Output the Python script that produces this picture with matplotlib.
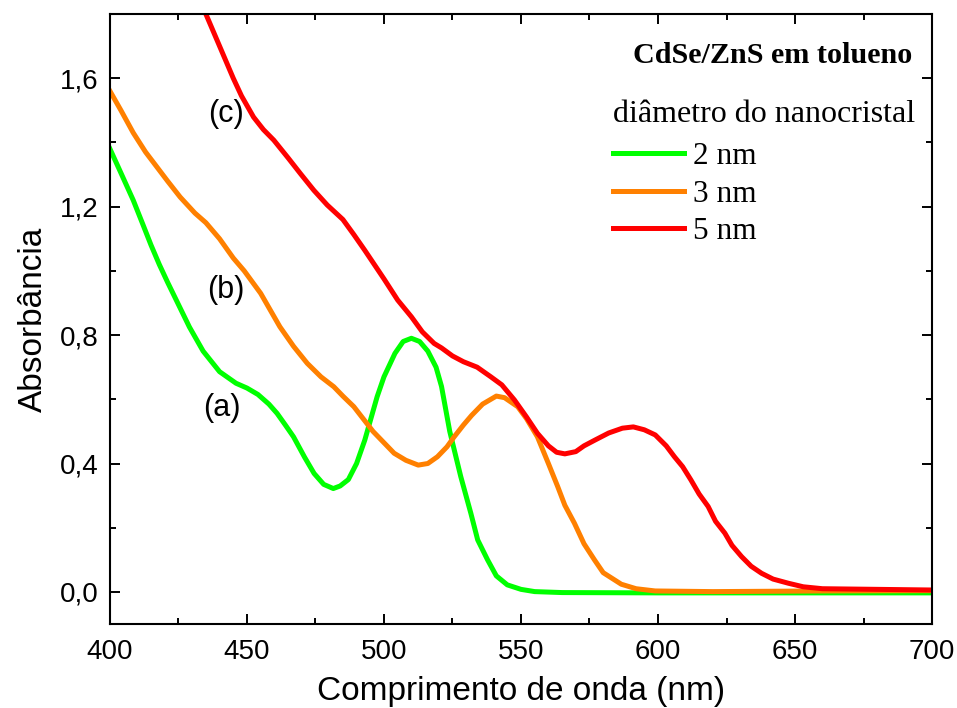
import matplotlib
matplotlib.use("Agg")
import matplotlib.pyplot as plt
from matplotlib.ticker import MultipleLocator, FuncFormatter

# absorption spectra of CdSe/ZnS quantum dots in toluene
wl_2nm = [400, 404, 408.5, 412, 415, 418, 421, 425, 429, 434, 440, 446, 450, 454,
          458, 461, 464, 467, 471, 474.5, 478, 481.5, 484, 487, 490, 493, 497.5,
          500, 504, 507, 510, 513, 516, 519, 521, 524, 528, 531.7, 534.2, 537.8,
          541, 545, 550, 555, 565, 600, 650, 700]
abs_2nm = [1.38, 1.305, 1.22, 1.145, 1.08, 1.02, 0.965, 0.895, 0.825, 0.75, 0.686,
           0.65, 0.635, 0.615, 0.585, 0.556, 0.52, 0.483, 0.42, 0.369, 0.335,
           0.322, 0.33, 0.35, 0.40, 0.473, 0.608, 0.67, 0.743, 0.78, 0.79, 0.78,
           0.75, 0.70, 0.64, 0.50, 0.36, 0.245, 0.162, 0.10, 0.05, 0.022, 0.008,
           0.001, -0.002, -0.003, -0.003, -0.003]

wl_3nm = [400, 404, 408.5, 413, 417, 421, 425.6, 431, 435, 440, 445, 449, 455,
          462, 467, 472, 477, 481.7, 485, 489, 496, 503.7, 508, 512.5, 516,
          519.5, 523, 525.6, 529, 532, 536, 541, 544, 548.8, 552, 556, 560,
          563.4, 566, 569.5, 573, 576.8, 580, 586.6, 592, 599, 620, 660, 700]
abs_3nm = [1.56, 1.50, 1.43, 1.37, 1.325, 1.28, 1.23, 1.18, 1.15, 1.10, 1.04,
           1.0, 0.93, 0.826, 0.765, 0.712, 0.67, 0.639, 0.61, 0.577, 0.50, 0.432,
           0.41, 0.395, 0.40, 0.421, 0.452, 0.483, 0.52, 0.55, 0.585, 0.61, 0.605,
           0.577, 0.54, 0.483, 0.40, 0.328, 0.27, 0.214, 0.15, 0.10, 0.06, 0.024,
           0.01, 0.003, 0.001, 0.003, 0.004]

wl_5nm = [425, 430, 435, 440, 445, 448, 452.4, 456, 459.8, 465, 469.5, 474.4,
          479.3, 485, 489, 493, 500, 505, 510, 514, 518.3, 521, 525, 529, 534,
          539, 543, 547.6, 552, 556, 560, 563, 566, 570, 573, 577, 582, 587, 591,
          595, 599, 603, 606, 609, 612, 615, 618.3, 621, 624.4, 627, 630.5, 634,
          637.8, 642, 647.6, 653, 660, 670, 680, 690, 700]
abs_5nm = [2.05, 1.92, 1.80, 1.70, 1.60, 1.545, 1.479, 1.44, 1.407, 1.352, 1.303,
           1.251, 1.205, 1.16, 1.113, 1.064, 0.975, 0.909, 0.857, 0.81, 0.774,
           0.76, 0.735, 0.717, 0.70, 0.67, 0.645, 0.598, 0.545, 0.494, 0.455,
           0.435, 0.43, 0.437, 0.455, 0.473, 0.495, 0.51, 0.514, 0.505, 0.489,
           0.455, 0.421, 0.39, 0.349, 0.305, 0.266, 0.22, 0.183, 0.145, 0.11,
           0.08, 0.058, 0.04, 0.027, 0.016, 0.01, 0.009, 0.008, 0.007, 0.006]

sizes = ["2 nm", "3 nm", "5 nm"]
colors = ["#00ff00", "#ff8000", "#ff0000"]
tags = ["(a)", "(b)", "(c)"]
tag_pos = [(441.0, 0.573), (442.1, 0.94), (442.4, 1.488)]

plt.rcParams['font.family'] = ['Liberation Sans', 'DejaVu Sans']
serif = ['Liberation Serif', 'DejaVu Serif']

fig = plt.figure(figsize=(9.57, 7.08), dpi=100)
ax = fig.add_axes([0.1149, 0.1186, 0.859, 0.8616])

for wl, ab, lab, c in zip([wl_2nm, wl_3nm, wl_5nm], [abs_2nm, abs_3nm, abs_5nm],
                          sizes, colors):
    ax.plot(wl, ab, color=c, lw=3.6, label=lab, solid_joinstyle='round')

for t, (x, y) in zip(tags, tag_pos):
    ax.text(x, y, t, fontsize=22, ha='center', va='center')

ax.set_xlim(400, 700)
ax.set_ylim(-0.1, 1.8)
ax.xaxis.set_major_locator(MultipleLocator(50))
ax.xaxis.set_minor_locator(MultipleLocator(25))
ax.yaxis.set_major_locator(MultipleLocator(0.4))
ax.yaxis.set_minor_locator(MultipleLocator(0.2))
ax.yaxis.set_major_formatter(FuncFormatter(lambda v, p: f"{v:.1f}".replace(".", ",")))
ax.tick_params(which='both', direction='in', top=True, right=True, width=1.4,
               labelsize=20)
ax.tick_params(axis='x', which='major', length=7.2, pad=11)
ax.tick_params(axis='y', which='major', length=7.2, pad=8)
ax.tick_params(which='minor', length=4.3)
for s in ax.spines.values():
    s.set_linewidth(1.5)

ax.set_xlabel("Comprimento de onda (nm)", fontsize=24, labelpad=8)
ax.set_ylabel("Absorbância", fontsize=24, labelpad=8)

ax.text(0.9757, 0.9328, "CdSe/ZnS em tolueno", transform=ax.transAxes,
        family=serif, fontsize=21.7, fontweight='bold', ha='right', va='center')
ax.text(0.6119, 0.823, "diâmetro do nanocristal", transform=ax.transAxes,
        family=serif, fontsize=23, ha='left', va='baseline')
leg = ax.legend(loc='upper left', bbox_to_anchor=(0.6119, 0.79), frameon=False,
                prop={'family': serif, 'size': 22.5},
                handlelength=2.27, handletextpad=0.29, labelspacing=0.27,
                borderpad=0, borderaxespad=0)

fig.savefig("out.png", dpi=100)
